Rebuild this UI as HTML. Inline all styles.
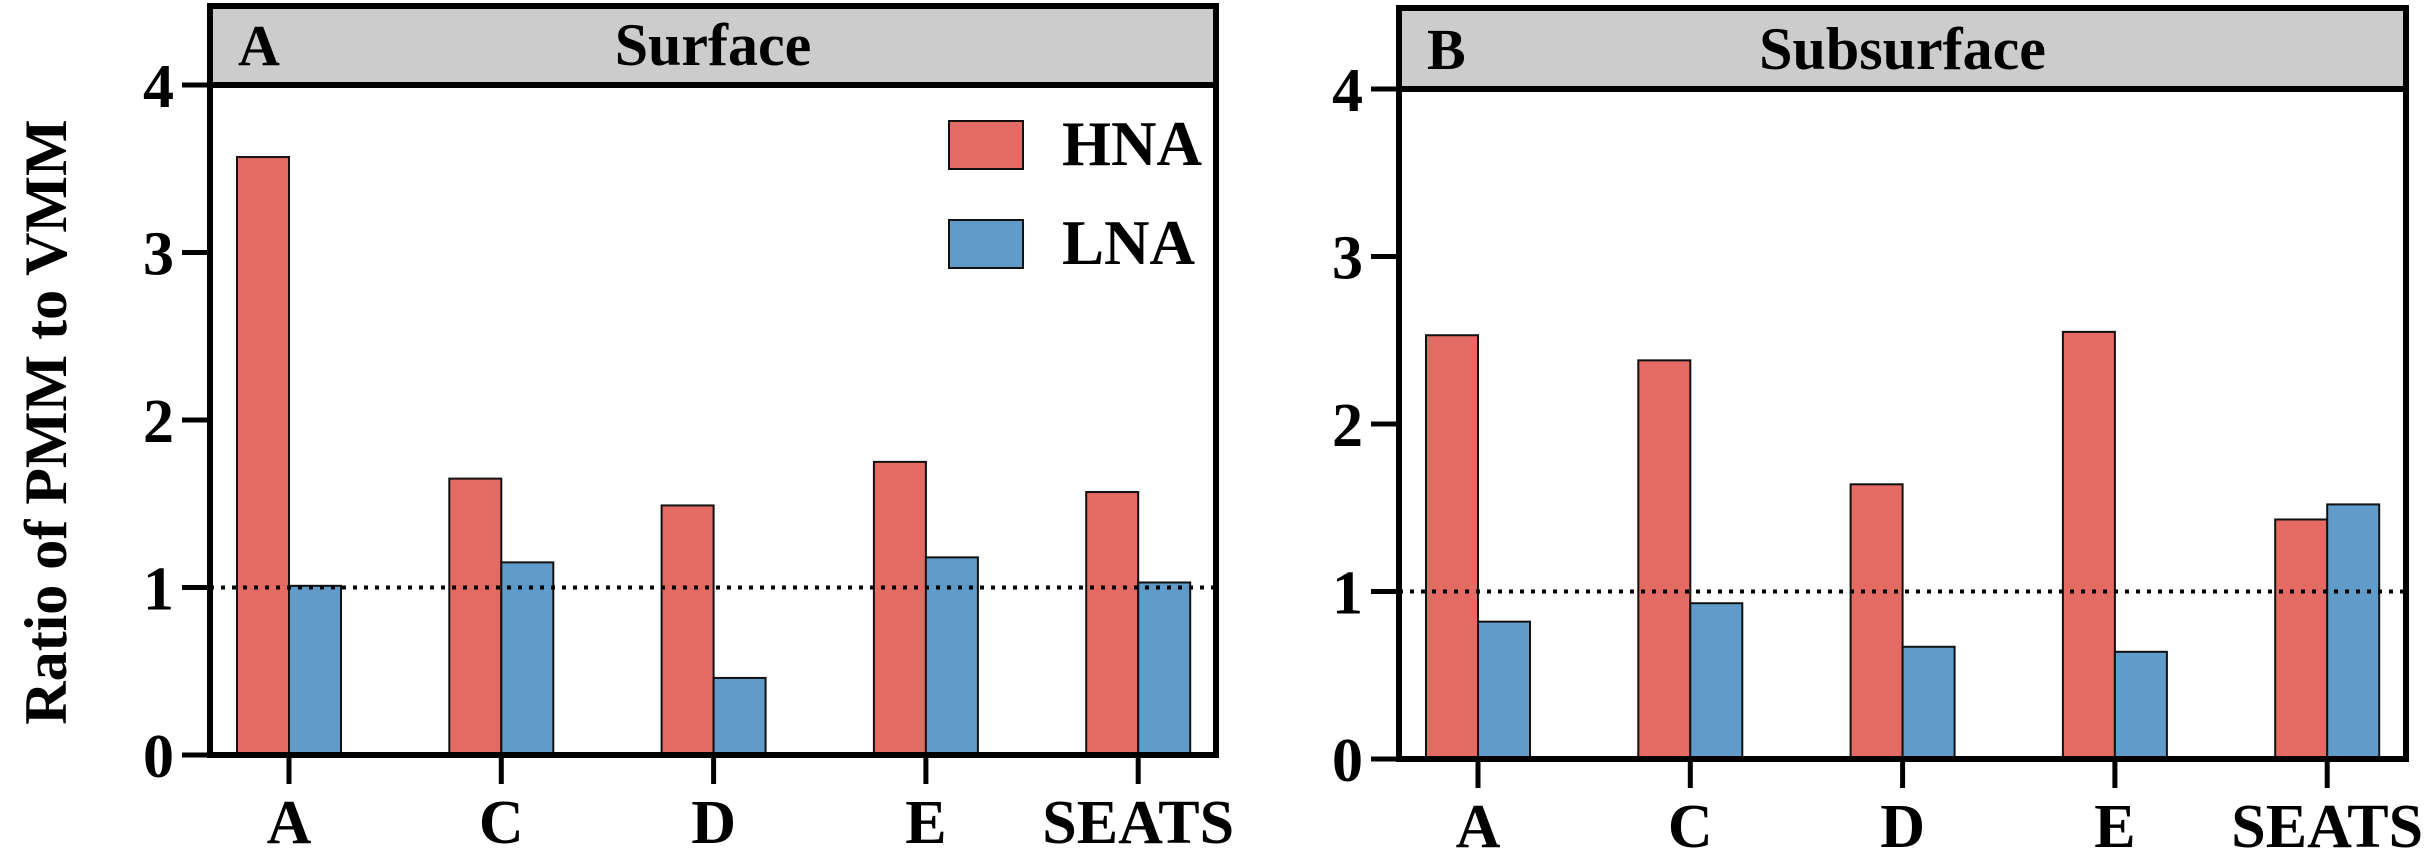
<!DOCTYPE html>
<html><head><meta charset="utf-8">
<style>
html,body{margin:0;padding:0;background:#fff;}
svg{display:block;}
svg text{font-family:"Liberation Serif","Times New Roman","DejaVu Serif",serif !important;font-weight:bold;fill:#000;}
</style></head>
<body>
<svg id="chart" width="2430" height="853" viewBox="0 0 2430 853" xmlns="http://www.w3.org/2000/svg" font-family="Liberation Serif, Times New Roman, serif" font-weight="bold">
<text x="0" y="0" font-size="60" text-anchor="middle" transform="translate(66,422) rotate(-90)">Ratio of PMM to VMM</text>
</svg>
<script>
const categories = ["A","C","D","E","SEATS"];
const surfaceHNA = [3.57,1.65,1.49,1.75,1.57];
const surfaceLNA = [1.01,1.15,0.46,1.18,1.03];
const subsurfaceHNA = [2.53,2.38,1.64,2.55,1.43];
const subsurfaceLNA = [0.82,0.93,0.67,0.64,1.52];
const yTicks = [0,1,2,3,4];
const refValue = 1;

const svg = document.getElementById('chart');
const NS = 'http://www.w3.org/2000/svg';
function el(tag, attrs, parent){
  const e = document.createElementNS(NS, tag);
  for (const k in attrs) e.setAttribute(k, attrs[k]);
  (parent||svg).appendChild(e);
  return e;
}
const panels = [
  {letter:"A", title:"Surface", left:210, right:1216, top:6, y0:755, y4:85, first:289, hna:surfaceHNA, lna:surfaceLNA, legend:true, name:'surface'},
  {letter:"B", title:"Subsurface", left:1399, right:2406, top:8, y0:759, y4:89, first:1478, hna:subsurfaceHNA, lna:subsurfaceLNA, legend:false, name:'subsurface'}
];
panels.forEach(p=>{
  const g = el('g',{});
  
  
  const yS = v => p.y0 - v*(p.y0-p.y4)/4;
  const step = 212.3;
  const xS = i => p.first + i*step;
  const bw = 52;
  const hdr = el('rect',{x:p.left,y:p.top,width:p.right-p.left,height:p.y4-p.top,fill:'#cccccc',stroke:'#000','stroke-width':6},g);
  
  
  const lt = el('text',{x:p.left+28,y:p.y4-20,'font-size':58},g);
  lt.textContent = p.letter;
  
  
  const tt = el('text',{x:(p.left+p.right)/2,y:p.y4-20,'font-size':60,'text-anchor':'middle'},g);
  tt.textContent = p.title;
  
  
  categories.forEach((c,i)=>{
    const x = xS(i);
    const b1 = el('rect',{x:x-bw,y:yS(p.hna[i]),width:bw,height:yS(0)-yS(p.hna[i]),fill:'#e36b63',stroke:'#111','stroke-width':2},g);
    
    
    const b2 = el('rect',{x:x,y:yS(p.lna[i]),width:bw,height:yS(0)-yS(p.lna[i]),fill:'#619bc9',stroke:'#111','stroke-width':2},g);
    
    
    const tk = el('line',{x1:x,y1:p.y0,x2:x,y2:p.y0+29,stroke:'#000','stroke-width':5},g);
    
    
    const tl = el('text',{x:x,y:p.y0+88,'font-size':62,'text-anchor':'middle'},g);
    tl.textContent = c;
    
    
  });
  const rl = el('line',{x1:p.left,y1:yS(refValue),x2:p.right,y2:yS(refValue),stroke:'#000','stroke-width':4,'stroke-dasharray':'4 7'},g);
  
  
  const fr = el('path',{d:`M${p.left},${p.y4} L${p.left},${p.y0} L${p.right},${p.y0} L${p.right},${p.y4}`,fill:'none',stroke:'#000','stroke-width':6},g);
  
  
  yTicks.forEach(t=>{
    const tk = el('line',{x1:p.left-28,y1:yS(t),x2:p.left,y2:yS(t),stroke:'#000','stroke-width':5},g);
    
    
    const tl = el('text',{x:p.left-36,y:yS(t)+22,'font-size':62,'text-anchor':'end'},g);
    tl.textContent = t;
    
    
  });
  if (p.legend){
    [['HNA','#e36b63',121],['LNA','#619bc9',220]].forEach(([n,c,y])=>{
      const sw = el('rect',{x:949,y:y,width:74,height:48,fill:c,stroke:'#111','stroke-width':2},g);
      
      
      const lt2 = el('text',{x:1062,y:y+44,'font-size':63},g);
      lt2.textContent = n;
      
      
    });
  }
});
</script>
</body></html>
